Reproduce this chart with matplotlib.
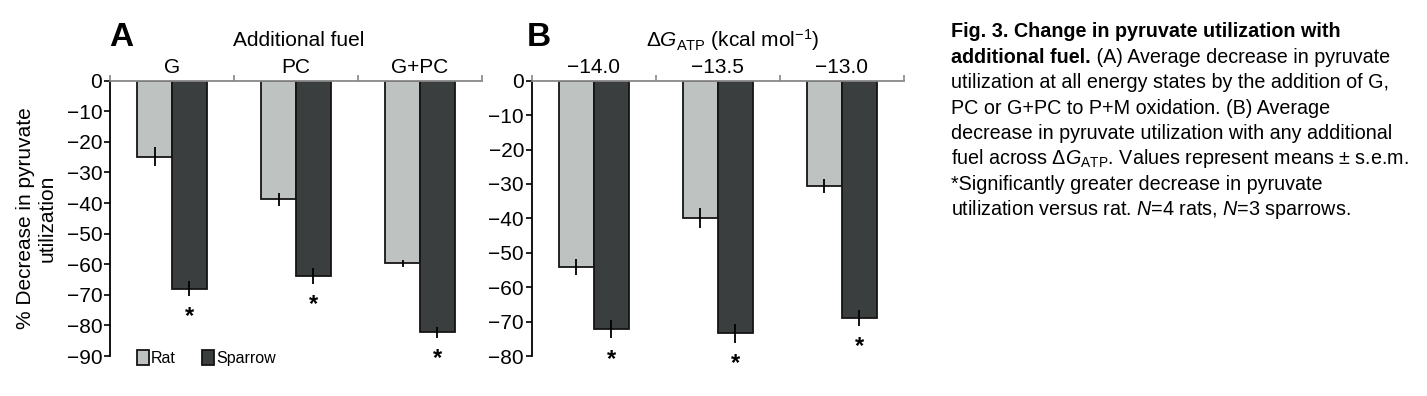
import numpy as np
import matplotlib
matplotlib.use('Agg')
import matplotlib.pyplot as plt

plt.rcParams['font.family'] = ['Liberation Sans', 'DejaVu Sans']
plt.rcParams['mathtext.fontset'] = 'custom'
plt.rcParams['mathtext.rm'] = 'Liberation Sans'
plt.rcParams['mathtext.it'] = 'Liberation Sans:italic'
plt.rcParams['mathtext.bf'] = 'Liberation Sans:bold'

# panel A: additional fuel
fuels = ['G', 'PC', 'G+PC']
rat_a = [-24.8, -38.8, -59.7]
rat_a_err = [3.0, 2.0, 1.2]
sparrow_a = [-68.0, -63.8, -82.3]
sparrow_a_err = [2.4, 2.7, 1.8]

# panel B: dG_ATP
dg_labels = ['\u221214.0', '\u221213.5', '\u221213.0']
rat_b = [-54.1, -40.0, -30.6]
rat_b_err = [2.4, 2.9, 1.9]
sparrow_b = [-72.2, -73.4, -68.9]
sparrow_b_err = [2.7, 2.7, 2.3]

RAT_C = '#bec3c2'
SPAR_C = '#3a3e3f'
W, H = 1427., 396.
FS = 15
CFS = 14.2   # caption font size

# caption: each line is a list of (text, bold) pieces
caption = [
    [('Fig. 3. Change in pyruvate utilization with', True)],
    [('additional fuel.', True), (' (A) Average decrease in pyruvate', False)],
    [('utilization at all energy states by the addition of G,', False)],
    [('PC or G+PC to P+M oxidation. (B) Average', False)],
    [('decrease in pyruvate utilization with any additional', False)],
    [(r'fuel across $\Delta G_{\mathrm{ATP}}$. Values represent means ± s.e.m.', False)],
    [('*Significantly greater decrease in pyruvate', False)],
    [(r'utilization versus rat. $N$=4 rats, $N$=3 sparrows.', False)],
]


def panel(ax, labels, rat, rat_err, spar, spar_err, ymin):
    x = np.arange(len(labels))
    w = 0.282
    ekw = dict(ecolor='black', elinewidth=1.3, capsize=0)
    ax.bar(x - w/2, rat, w, color=RAT_C, edgecolor='#151515', linewidth=1.3,
           yerr=rat_err, error_kw=ekw, label='Rat')
    ax.bar(x + w/2, spar, w, color=SPAR_C, edgecolor='#151515', linewidth=1.3,
           yerr=spar_err, error_kw=ekw, label='Sparrow')
    # significance stars under sparrow bars
    for xi, v, e in zip(x, spar, spar_err):
        ax.annotate('*', (xi + w/2, v - e), xytext=(0, -15), textcoords='offset points',
                    ha='center', va='center', fontsize=17, fontweight='bold',
                    annotation_clip=False)
    ax.set_xlim(-0.5, len(labels) - 0.5)
    ax.set_ylim(ymin, 0)
    ax.set_yticks(np.arange(0, ymin - 1, -10))
    ax.spines['right'].set_visible(False)
    ax.spines['bottom'].set_visible(False)
    ax.spines['top'].set_color('#888888')
    ax.spines['top'].set_linewidth(1.3)
    ax.spines['left'].set_linewidth(1.3)
    ax.xaxis.set_ticks_position('top')
    ax.set_xticks(np.arange(-0.5, len(labels)), [''] * (len(labels) + 1))
    ax.set_xticks(x, labels, minor=True)
    ax.tick_params(axis='x', which='major', direction='out', length=4, width=1.2,
                   color='#888888')
    ax.tick_params(axis='x', which='minor', length=0, pad=3, labelsize=FS,
                   top=True, labeltop=True, bottom=False, labelbottom=False)
    ax.tick_params(axis='y', direction='out', length=4, width=1.2, pad=1.5, labelsize=FS)


fig = plt.figure(figsize=(W/100, H/100), dpi=100)
bottom = 1 - 356/H
height = (356 - 80.7)/H
axA = fig.add_axes([110/W, bottom, 372/W, height])
axB = fig.add_axes([531.7/W, bottom, 372.3/W, height])

panel(axA, fuels, rat_a, rat_a_err, sparrow_a, sparrow_a_err, -90)
panel(axB, dg_labels, rat_b, rat_b_err, sparrow_b, sparrow_b_err, -80)

axA.set_ylabel('% Decrease in pyruvate\nutilization', fontsize=FS, labelpad=7)
axA.legend(loc='center left', bbox_to_anchor=(0.055, -0.008), ncol=2, frameon=False,
           fontsize=11.5, handlelength=0.75, handleheight=1.0, handletextpad=0.15,
           columnspacing=1.6, borderaxespad=0)

fig.text(109/W, 1 - 38/H, 'A', fontsize=24, fontweight='bold', va='center')
fig.text(527/W, 1 - 38/H, 'B', fontsize=24, fontweight='bold', va='center')
fig.text(299/W, 1 - 40/H, 'Additional fuel', fontsize=FS, ha='center', va='center')
fig.text(733/W, 1 - 40/H, r'$\Delta G_{\mathrm{ATP}}$ (kcal mol$^{-1}$)',
         fontsize=FS, ha='center', va='center')

renderer = fig.canvas.get_renderer()
for i, pieces in enumerate(caption):
    x0 = 951/W
    y0 = 1 - (37.3 + 25.4*i)/H
    for txt, bold in pieces:
        t = fig.text(x0, y0, txt, fontsize=CFS, va='baseline', ha='left',
                     fontweight='bold' if bold else 'normal')
        # next piece starts where this one ends
        x0 = t.get_window_extent(renderer).x1 / fig.bbox.width

fig.savefig('out.png', dpi=100)
